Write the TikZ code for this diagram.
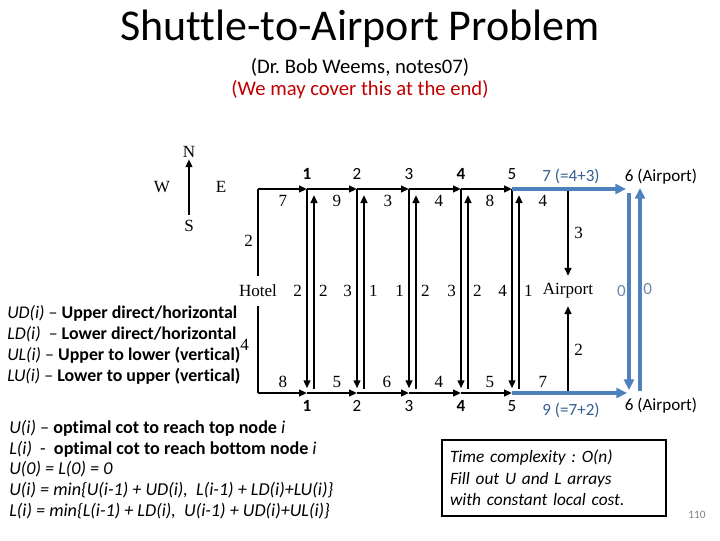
\documentclass[tikz,border=0pt]{standalone}
\usepackage{fontspec}
\setmainfont{Carlito}[Ligatures=NoCommon]
\newfontfamily\diagfont{Liberation Serif}
\usetikzlibrary{arrows.meta}
\definecolor{bleu}{RGB}{79,129,189}
\definecolor{bleutexte}{RGB}{54,95,145}
\definecolor{bleugris}{RGB}{110,135,170}
\definecolor{rouge}{RGB}{192,0,0}
\tikzstyle{trait}           =[line width=1.5pt]
\tikzstyle{fleche}          =[line width=1.5pt,-{Triangle[length=6pt,width=5pt]}]
\tikzstyle{bleue}           =[line width=3pt,color=bleu,-{Triangle[length=8pt,width=7.5pt]}]
\tikzstyle{cout}            =[font=\diagfont\fontsize{12.8}{14}\selectfont,inner sep=1pt]
\tikzstyle{sommet}          =[font=\fontsize{12.8}{14}\selectfont,inner sep=1pt]

\begin{document}
\frenchspacing
\begin{tikzpicture}[x=0.75pt,y=-0.75pt]

\useasboundingbox (0,0) rectangle (720,540);

%%%%%%%%%%%%%%%%%%%%%%%%
%titre
%%%%%%%%%%%%%%%%%%%%%%%%
\node (titre) at (360,29) {\fontsize{33}{38}\selectfont Shuttle-to-Airport Problem};
\node (auteur) at (360,67) {\fontsize{15.5}{18}\selectfont (Dr. Bob Weems, notes07)};
\node[rouge] (remarque) at (360,90) {\fontsize{15.5}{18}\selectfont (We may cover this at the end)};

%%%%%%%%%%%%%%%%%%%%%%%%
%la rose des vents
%%%%%%%%%%%%%%%%%%%%%%%%
\node[cout] (nord) at (189,152) {N};
\node[cout] (sud) at (189,226) {S};
\node[cout] (ouest) at (162,187) {W};
\node[cout] (est) at (221,187) {E};
\draw[fleche,shorten <=3pt] (sud) -- (nord);

%%%%%%%%%%%%%%%%%%%%%%%%
%les arrêts (en pixels)
%%%%%%%%%%%%%%%%%%%%%%%%
\def \yhaut {189}; %ligne du haut
\def \ybas {393}; %ligne du bas
\def \decal {7}; %écart entre descente et montée

\foreach \i/\x in {0/258,1/307,2/357,3/409,4/461,5/512}{
  \coordinate (h\i) at (\x,\yhaut);
  \coordinate (b\i) at (\x,\ybas);
  \coordinate (hm\i) at ({\x+\decal},\yhaut);
  \coordinate (bm\i) at ({\x+\decal},\ybas);
}
\coordinate (h6) at (626,\yhaut);
\coordinate (b6) at (627,\ybas);
\coordinate (ha) at (568,\yhaut);
\coordinate (ba) at (568,\ybas);

%l'hôtel et l'aéroport du milieu
\node[cout,inner ysep=6.5pt] (hotel) at (258,291) {Hotel};
\node[cout,inner ysep=5.5pt] (aeroport) at (568,291) {Airport};
\draw[trait] (h0) -- (hotel) node[cout,pos=0.6,left=2pt] {2};
\draw[trait] (b0) -- (hotel) node[cout,pos=0.55,left=5pt] {4};

%les routes horizontales
\foreach \i [evaluate=\i as \j using int(\i-1)] in {1,...,5}{
  \draw[fleche] (h\j) -- (h\i);
  \draw[fleche] (b\j) -- (b\i);
}

%descentes et montées
\foreach \i/\d/\m in {1/2/2,2/3/1,3/1/2,4/3/2,5/4/1}{
  \draw[fleche,shorten >=3.5pt] (h\i) -- (b\i) node[cout,midway,left=2pt] {\d};
  \draw[fleche,shorten <=3pt,shorten >=4.5pt] (bm\i) -- (hm\i) node[cout,midway,right=2pt] {\m};
}

%coûts des routes
\foreach \x/\c in {283/7,337/9,388/3,439/4,490/8,543/4}
  \node[cout] at (\x,201) {\c};
\foreach \x/\c in {283/8,337/5,387/6,439/4,490/5,543/7}
  \node[cout] at (\x,382) {\c};

%numéros des arrêts
\foreach \i/\f in {1/\bfseries,2/,3/,4/\bfseries,5/}{
  \node[sommet] at ([yshift=11pt]h\i) {\f\i};
  \node[sommet] at ([yshift=-10pt]b\i) {\f\i};
}

%vers l'aéroport du milieu
\draw[fleche] (ha) -- (aeroport) node[cout,midway,right=3pt] {3};
\draw[fleche] (ba) -- (aeroport) node[cout,midway,right=3pt] {2};

%%%%%%%%%%%%%%%%%%%%%%%%
%le chemin vers l'aéroport (en bleu)
%%%%%%%%%%%%%%%%%%%%%%%%
\node[sommet] (aeroH) at (661,177) {6 (Airport)};
\node[sommet] (aeroB) at (661,406) {6 (Airport)};
\coordinate (dh) at (629,193);
\coordinate (db) at (629,390);
\coordinate (mb) at (640,391);
\coordinate (mh) at (640,188);
\draw[bleue,line cap=butt] (h5) -- (h6);
\draw[bleue,line cap=butt] (b5) -- (b6);
\draw[bleue] (dh) -- (db) node[sommet,bleugris,midway,left=0pt] {0};
\draw[bleue] (mb) -- (mh) node[sommet,bleugris,midway,right=0pt] {0};
\node[sommet,bleutexte] (somme1) at (571,176) {7 (=4+3)};
\node[sommet,bleutexte] (somme2) at (571,410) {9 (=7+2)};

%%%%%%%%%%%%%%%%%%%%%%%%
%les textes
%%%%%%%%%%%%%%%%%%%%%%%%
\node[anchor=west,align=left,inner sep=0pt,font=\fontsize{13.4}{15.8}\selectfont] (legende) at (7,344.5) {%
\textit{UD(i)} -- \textbf{Upper direct/horizontal}\\
\textit{LD(i)}\ \ -- \textbf{Lower direct/horizontal}\\
\textit{UL(i)} -- \textbf{Upper to lower (vertical)}\\
\textit{LU(i)} -- \textbf{Lower to upper (vertical)}};

\node[anchor=west,align=left,inner sep=0pt,font=\fontsize{13.6}{15.6}\selectfont] (recurrence) at (9,469.5) {%
\textit{U(i)} -- \textbf{optimal cot to reach top node} \textit{i}\\
\textit{L(i)} \ - \ \textbf{optimal cot to reach bottom node} \textit{i}\\
\textit{U(0) = L(0) = 0}\\
\textit{U(i) = min\{U(i-1) + UD(i),\ \ L(i-1) + LD(i)+LU(i)\}}\\
\textit{L(i) = min\{L(i-1) + LD(i),\ \ U(i-1) + UD(i)+UL(i)\}}};

\node[draw,line width=0.8pt,minimum width=168pt,minimum height=57pt,inner xsep=6pt,
  text width=156pt,align=left,font=\itshape\fontsize{13}{16}\selectfont] (boite) at (554,478) {%
Time complexity : O(n)\\
Fill out U and L arrays\\
with constant local cost.};

\node[gray,font=\fontsize{8.5}{10}\selectfont] (page) at (697,515) {110};

\end{tikzpicture}
\end{document}
